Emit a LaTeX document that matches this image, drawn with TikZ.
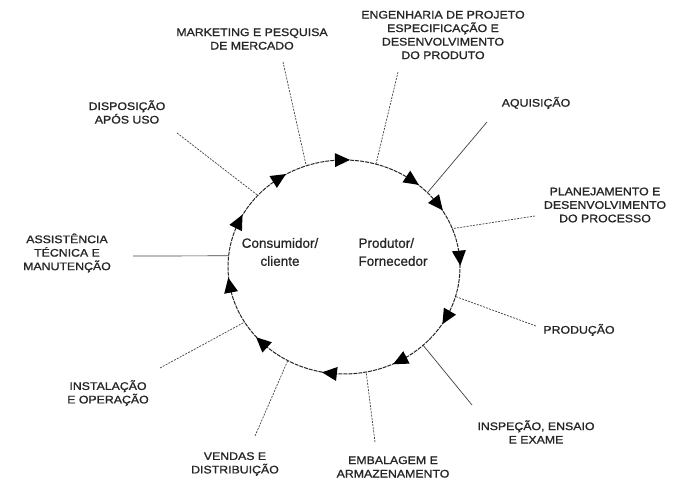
\documentclass[tikz,border=0pt]{standalone}
\usepackage{fontspec}
\setmainfont{Liberation Sans}
\newfontfamily\labfont[FakeStretch=1.12,FakeBold=1.2]{Liberation Sans}
\newfontfamily\ctrfont[FakeBold=0.8]{Liberation Sans}
\begin{document}
\begin{tikzpicture}[x=1pt,y=1pt,
  lab/.style={font=\labfont\fontsize{11}{13.5}\selectfont, align=center, inner sep=0pt, text=black!85},
  ctr/.style={font=\ctrfont\fontsize{13.5}{18}\selectfont, align=center, inner sep=0pt, text=black!85},
  leader/.style={draw=black!75, line width=0.7pt},
  dleader/.style={leader, dash pattern=on 2pt off 1.2pt},
  ring/.style={draw=black!85, line width=1pt, dash pattern=on 4pt off 1pt},
  tri/.style={fill=black}]
\useasboundingbox (0,0) rectangle (674,486);
\coordinate (C) at (344,219);
\draw[ring] (C) ellipse [x radius=116, y radius=107];

% arrowheads on the ring (clockwise)
\foreach \t [count=\i] in {91,54,36,5,-28,-61,-97,-135,-170,155,124} {
  \path (C) ++(\t:116 and 107) coordinate (ar\i);
  \pgfmathsetmacro\ang{atan2(-107*cos(\t),116*sin(\t))}
  \fill[tri, shift={(ar\i)}, rotate=\ang] (8,0) -- (-7,7) -- (-7,-7) -- cycle;
}

% centre texts
\node[ctr] (cons) at (280,234) {Consumidor/\\cliente};
\node[ctr, align=left] (prodf) at (393,234) {Produtor/\\Fornecedor};

% labels
\node[lab] (mkt) at (252,447) {MARKETING E PESQUISA\\DE MERCADO};
\node[lab] (eng) at (443,451) {ENGENHARIA DE PROJETO\\ESPECIFICAÇÃO E\\DESENVOLVIMENTO\\DO PRODUTO};
\node[lab] (aq) at (536,383) {AQUISIÇÃO};
\node[lab] (plan) at (605,281) {PLANEJAMENTO E\\DESENVOLVIMENTO\\DO PROCESSO};
\node[lab] (prod) at (579,156) {PRODUÇÃO};
\node[lab] (insp) at (536,54) {INSPEÇÃO, ENSAIO\\E EXAME};
\node[lab] (emb) at (393,19) {EMBALAGEM E\\ARMAZENAMENTO};
\node[lab] (vend) at (235,22) {VENDAS E\\DISTRIBUIÇÃO};
\node[lab] (inst) at (108,93) {INSTALAÇÃO\\E OPERAÇÃO};
\node[lab] (assist) at (67,233) {ASSISTÊNCIA\\TÉCNICA E\\MANUTENÇÃO};
\node[lab] (disp) at (127,374) {DISPOSIÇÃO\\APÓS USO};

% leader ends
\path (C) ++(109:116 and 107) coordinate (mktin);
\path (C) ++(74:116 and 107) coordinate (engin);
\path (C) ++(44:116 and 107) coordinate (aqin);
\path (C) ++(21:116 and 107) coordinate (planin);
\path (C) ++(-16:116 and 107) coordinate (prodin);
\path (C) ++(-47:116 and 107) coordinate (inspin);
\path (C) ++(-79:116 and 107) coordinate (embin);
\path (C) ++(-119:116 and 107) coordinate (vendin);
\path (C) ++(-149:116 and 107) coordinate (instin);
\path (C) ++(174:116 and 107) coordinate (assistin);
\path (C) ++(138:116 and 107) coordinate (dispin);

\coordinate (mktout) at (283,424);
\coordinate (engout) at (398,414);
\coordinate (aqout) at (487,364);
\coordinate (planout) at (535,270);
\coordinate (prodout) at (536,160);
\coordinate (inspout) at (472,81);
\coordinate (embout) at (375,44);
\coordinate (vendout) at (255,50);
\coordinate (instout) at (160,118);
\coordinate (assistout) at (133,230);
\coordinate (dispout) at (177,353);

\draw[dleader] (mktout) -- (mktin);
\draw[dleader] (engout) -- (engin);
\draw[leader] (aqout) -- (aqin);
\draw[dleader] (planout) -- (planin);
\draw[dleader] (prodout) -- (prodin);
\draw[leader] (inspout) -- (inspin);
\draw[dleader] (embout) -- (embin);
\draw[dleader] (vendout) -- (vendin);
\draw[dleader] (instout) -- (instin);
\draw[leader] (assistout) -- (assistin);
\draw[dleader] (dispout) -- (dispin);
\end{tikzpicture}
\end{document}
